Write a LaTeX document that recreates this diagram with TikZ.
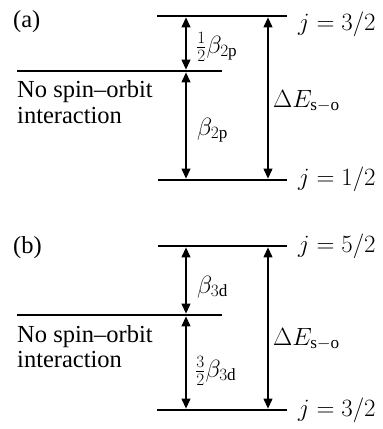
\documentclass[tikz,border=0pt]{standalone}
\usepackage{fontspec}
\setmainfont{Liberation Serif}
\usetikzlibrary{arrows.meta}
\begin{document}
\begin{tikzpicture}[x=1pt,y=-1pt,
  level/.style={line width=2.9pt},
  gap/.style={line width=1.1pt,shorten <=1.4pt,shorten >=1.4pt,
    {Triangle[length=10pt,width=9pt]}-{Triangle[length=10pt,width=9pt]}},
  txt/.style={font=\fontsize{24.5}{28}\selectfont, inner sep=0pt, anchor=base west},
]
\useasboundingbox (0,0) rectangle (383,429);
\coordinate (xl) at (186,0);
\coordinate (xr) at (268,0);
% ---------- panel (a)
\coordinate (a3L) at (157,16);  \coordinate (a3R) at (287,16);
\coordinate (a0L) at (17,71);   \coordinate (a0R) at (222,71);
\coordinate (a1L) at (158,180); \coordinate (a1R) at (287,180);
\draw[level] (a3L) -- (a3R);
\draw[level] (a0L) -- (a0R);
\draw[level] (a1L) -- (a1R);
\draw[gap] (xl |- a3L) -- (xl |- a0L);
\draw[gap] (xl |- a0L) -- (xl |- a1L);
\draw[gap] (xr |- a3L) -- (xr |- a1L);
\node[txt] (la) at (13,27) {(a)};
\node[txt] (ja3) at (298,30) {$j=3/2$};
\node[txt] (ja1) at (298,185) {$j=1/2$};
\node[txt] (nsa) at (17,97) {No spin–orbit};
\node[txt] (ina) at (17,123) {interaction};
\node[txt] (ba1) at (196,53) {$\frac12\beta_{2\mathrm{p}}$};
\node[txt] (ba2) at (197,135) {$\beta_{2\mathrm{p}}$};
\node[txt] (dea) at (273,107) {$\Delta E_{\mathrm{s}-\mathrm{o}}$};
% ---------- panel (b)
\coordinate (b5L) at (158,246); \coordinate (b5R) at (287,246);
\coordinate (b0L) at (17,315);  \coordinate (b0R) at (222,315);
\coordinate (b3L) at (157,410); \coordinate (b3R) at (287,410);
\draw[level] (b5L) -- (b5R);
\draw[level] (b0L) -- (b0R);
\draw[level] (b3L) -- (b3R);
\draw[gap] (xl |- b5L) -- (xl |- b0L);
\draw[gap] (xl |- b0L) -- (xl |- b3L);
\draw[gap] (xr |- b5L) -- (xr |- b3L);
\node[txt] (lb) at (13,253) {(b)};
\node[txt] (jb5) at (298,252) {$j=5/2$};
\node[txt] (jb3) at (298,416) {$j=3/2$};
\node[txt] (nsb) at (17,342) {No spin–orbit};
\node[txt] (inb) at (17,367) {interaction};
\node[txt] (bb1) at (197,293) {$\beta_{3\mathrm{d}}$};
\node[txt] (bb2) at (195,377) {$\frac32\beta_{3\mathrm{d}}$};
\node[txt] (deb) at (273,345) {$\Delta E_{\mathrm{s}-\mathrm{o}}$};
\end{tikzpicture}
\end{document}
